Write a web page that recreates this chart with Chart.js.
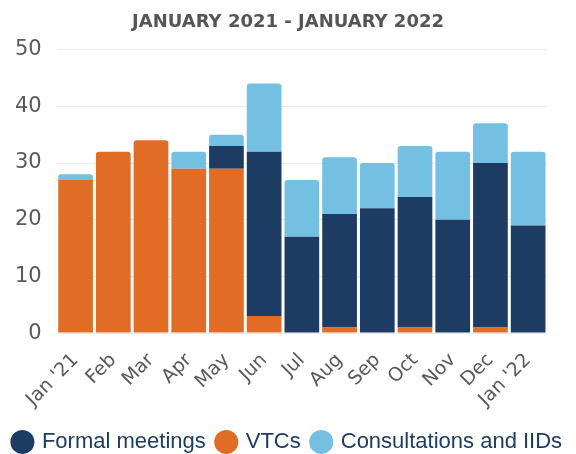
<!DOCTYPE html>
<html>
<head>
<meta charset="utf-8">
<script src="https://cdn.jsdelivr.net/npm/chart.js@4"></script>
<style>
  html, body { margin: 0; padding: 0; background: #fff; }
  #wrap { width: 576px; height: 454px; }
</style>
</head>
<body>
<div id="wrap"><canvas id="meetingsChart"></canvas></div>
<script>
// Data
const months = ["Jan '21", "Feb", "Mar", "Apr", "May", "Jun", "Jul", "Aug", "Sep", "Oct", "Nov", "Dec", "Jan '22"];
const vtcs = [27, 32, 34, 29, 29, 3, 0, 1, 0, 1, 0, 1, 0];
const formalMeetings = [0, 0, 0, 0, 4, 29, 17, 20, 22, 23, 20, 29, 19];
const consultations = [1, 0, 0, 3, 2, 12, 10, 10, 8, 9, 12, 7, 13];
const yTicks = [0, 10, 20, 30, 40, 50];

const legendRank = { "Formal meetings": 0, "VTCs": 1, "Consultations and IIDs": 2 };

// Round only the top of the topmost visible segment in each column
function topRadius(ctx) {
    const i = ctx.dataIndex;
    const series = [vtcs, formalMeetings, consultations];
    let top = -1;
    series.forEach((s, k) => { if (s[i] > 0) top = k; });
    return ctx.datasetIndex === top ? { topLeft: 3, topRight: 3 } : 0;
}

document.addEventListener("DOMContentLoaded", function () {
    const ctx = document.getElementById('meetingsChart').getContext('2d');

    new Chart(ctx, {
        type: 'bar',
        data: {
            labels: months,
            datasets: [
                { label: 'VTCs', data: vtcs, backgroundColor: '#e06c26' },
                { label: 'Formal meetings', data: formalMeetings, backgroundColor: '#1d3c64' },
                { label: 'Consultations and IIDs', data: consultations, backgroundColor: '#74c0e2' }
            ]
        },
        options: {
            responsive: true,
            maintainAspectRatio: false,
            animation: false,
            datasets: {
                bar: {
                    barPercentage: 0.92,
                    categoryPercentage: 1,
                    borderRadius: topRadius,
                    borderSkipped: false
                }
            },
            layout: { padding: { left: 0, right: 0, top: 2, bottom: -9 } },
            scales: {
                x: {
                    stacked: true,
                    grid: { display: false },
                    border: { display: false },
                    ticks: {
                        color: '#595959',
                        font: { family: 'DejaVu Sans', size: 19 },
                        autoSkip: false,
                        maxRotation: 45,
                        minRotation: 45,
                        padding: 8
                    }
                },
                y: {
                    stacked: true,
                    min: 0,
                    max: 50,
                    afterBuildTicks: axis => { axis.ticks = yTicks.map(v => ({ value: v })); },
                    grid: { color: '#ececec', drawTicks: false },
                    border: { display: false },
                    ticks: {
                        color: '#595959',
                        font: { family: 'DejaVu Sans', size: 21 },
                        padding: 15
                    }
                },
                // empty axis on the right, just to keep the plot off the edge
                yRight: {
                    position: 'right',
                    display: true,
                    grid: { display: false },
                    border: { display: false },
                    ticks: { display: false },
                    afterFit: axis => { axis.width = 29; }
                }
            },
            plugins: {
                title: {
                    display: true,
                    text: 'JANUARY 2021 - JANUARY 2022',
                    color: '#555',
                    font: { family: 'DejaVu Sans', size: 18, weight: '600' },
                    padding: { top: 10, bottom: 16 }
                },
                legend: {
                    position: 'bottom',
                    labels: {
                        usePointStyle: true,
                        pointStyle: 'circle',
                        boxWidth: 17,
                        boxHeight: 17,
                        padding: 12,
                        color: '#1d3c64',
                        font: { family: 'Liberation Sans', size: 22 },
                        sort: (a, b) => legendRank[a.text] - legendRank[b.text]
                    }
                },
                tooltip: { enabled: false }
            }
        }
    });
});
</script>
</body>
</html>
